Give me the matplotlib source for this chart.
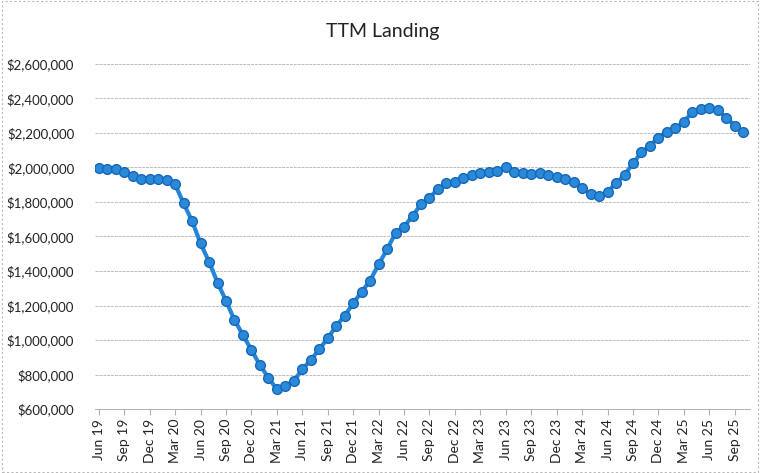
import matplotlib
matplotlib.use('Agg')
import matplotlib.pyplot as plt
from matplotlib.patches import Rectangle
from matplotlib.ticker import FuncFormatter

# monthly TTM landing values, Jun 19 .. Oct 25
months = ['Jun', 'Jul', 'Aug', 'Sep', 'Oct', 'Nov', 'Dec',
          'Jan', 'Feb', 'Mar', 'Apr', 'May']
start_year = 19
values = [
    1995000, 1990000, 1990000, 1972000, 1952000, 1935000, 1935000,
    1932000, 1927000, 1902000, 1792000, 1690000, 1560000, 1454000,
    1333000, 1227000, 1116000, 1029000, 942000, 855000, 781000,
    714000, 735000, 762000, 830000, 884000, 946000, 1010000,
    1081000, 1141000, 1213000, 1280000, 1344000, 1439000, 1525000,
    1622000, 1657000, 1719000, 1787000, 1825000, 1875000, 1908000,
    1914000, 1937000, 1957000, 1966000, 1976000, 1980000, 2001000,
    1976000, 1966000, 1962000, 1970000, 1957000, 1943000, 1932000,
    1914000, 1879000, 1845000, 1835000, 1860000, 1908000, 1957000,
    2024000, 2088000, 2126000, 2173000, 2208000, 2227000, 2266000,
    2320000, 2339000, 2343000, 2333000, 2289000, 2242000, 2208000,
]

# build the month labels
labels = []
year = start_year
for i in range(len(values)):
    m = months[i % 12]
    if m == 'Jan' and i > 0:
        year += 1
    labels.append(f"{m} {year}")

x = list(range(len(values)))
tick_idx = x[::3]
tick_labels = [labels[i] for i in tick_idx]

plt.rcParams['font.family'] = ['Lato', 'DejaVu Sans']

fig = plt.figure(figsize=(7.6, 4.73), dpi=100)
ax = fig.add_axes([95 / 760, 64 / 473, 655 / 760, 345 / 473])

ax.plot(x, values, color='#2585d8', linewidth=3, marker='o', markersize=7,
        markerfacecolor='#2a8ad9', markeredgecolor='#1667b8', markeredgewidth=1)

ax.set_ylim(600000, 2600000)
ax.set_yticks(range(600000, 2600001, 200000))
ax.yaxis.set_major_formatter(FuncFormatter(lambda v, p: f"${v:,.0f}"))
ax.set_xlim(-0.45, 76.8)
ax.set_xticks(tick_idx)
ax.set_xticklabels(tick_labels, rotation=90)

ax.grid(axis='y', color='#bdbdbd', linewidth=0.7, linestyle=(0, (3, 1)))
ax.set_axisbelow(True)
for s in ['top', 'right', 'left']:
    ax.spines[s].set_visible(False)
ax.spines['bottom'].set_color('#b0b0b0')
ax.spines['bottom'].set_linewidth(0.7)
ax.tick_params(axis='y', length=0, pad=15, labelsize=9.5, labelcolor='#222222')
ax.tick_params(axis='x', length=4, color='#b0b0b0', pad=3, labelsize=10,
               labelcolor='#222222')

fig.text(383 / 760, 1 - 32 / 473, 'TTM Landing', ha='center', va='center',
         fontsize=14, color='#222222')

# dotted chart border
fig.patches.append(Rectangle((0.002, 0.002), 0.996, 0.996, transform=fig.transFigure,
                             fill=False, edgecolor='#b8b8b8', linewidth=0.8,
                             linestyle=(0, (2, 2))))

fig.savefig('out.png', dpi=100)
